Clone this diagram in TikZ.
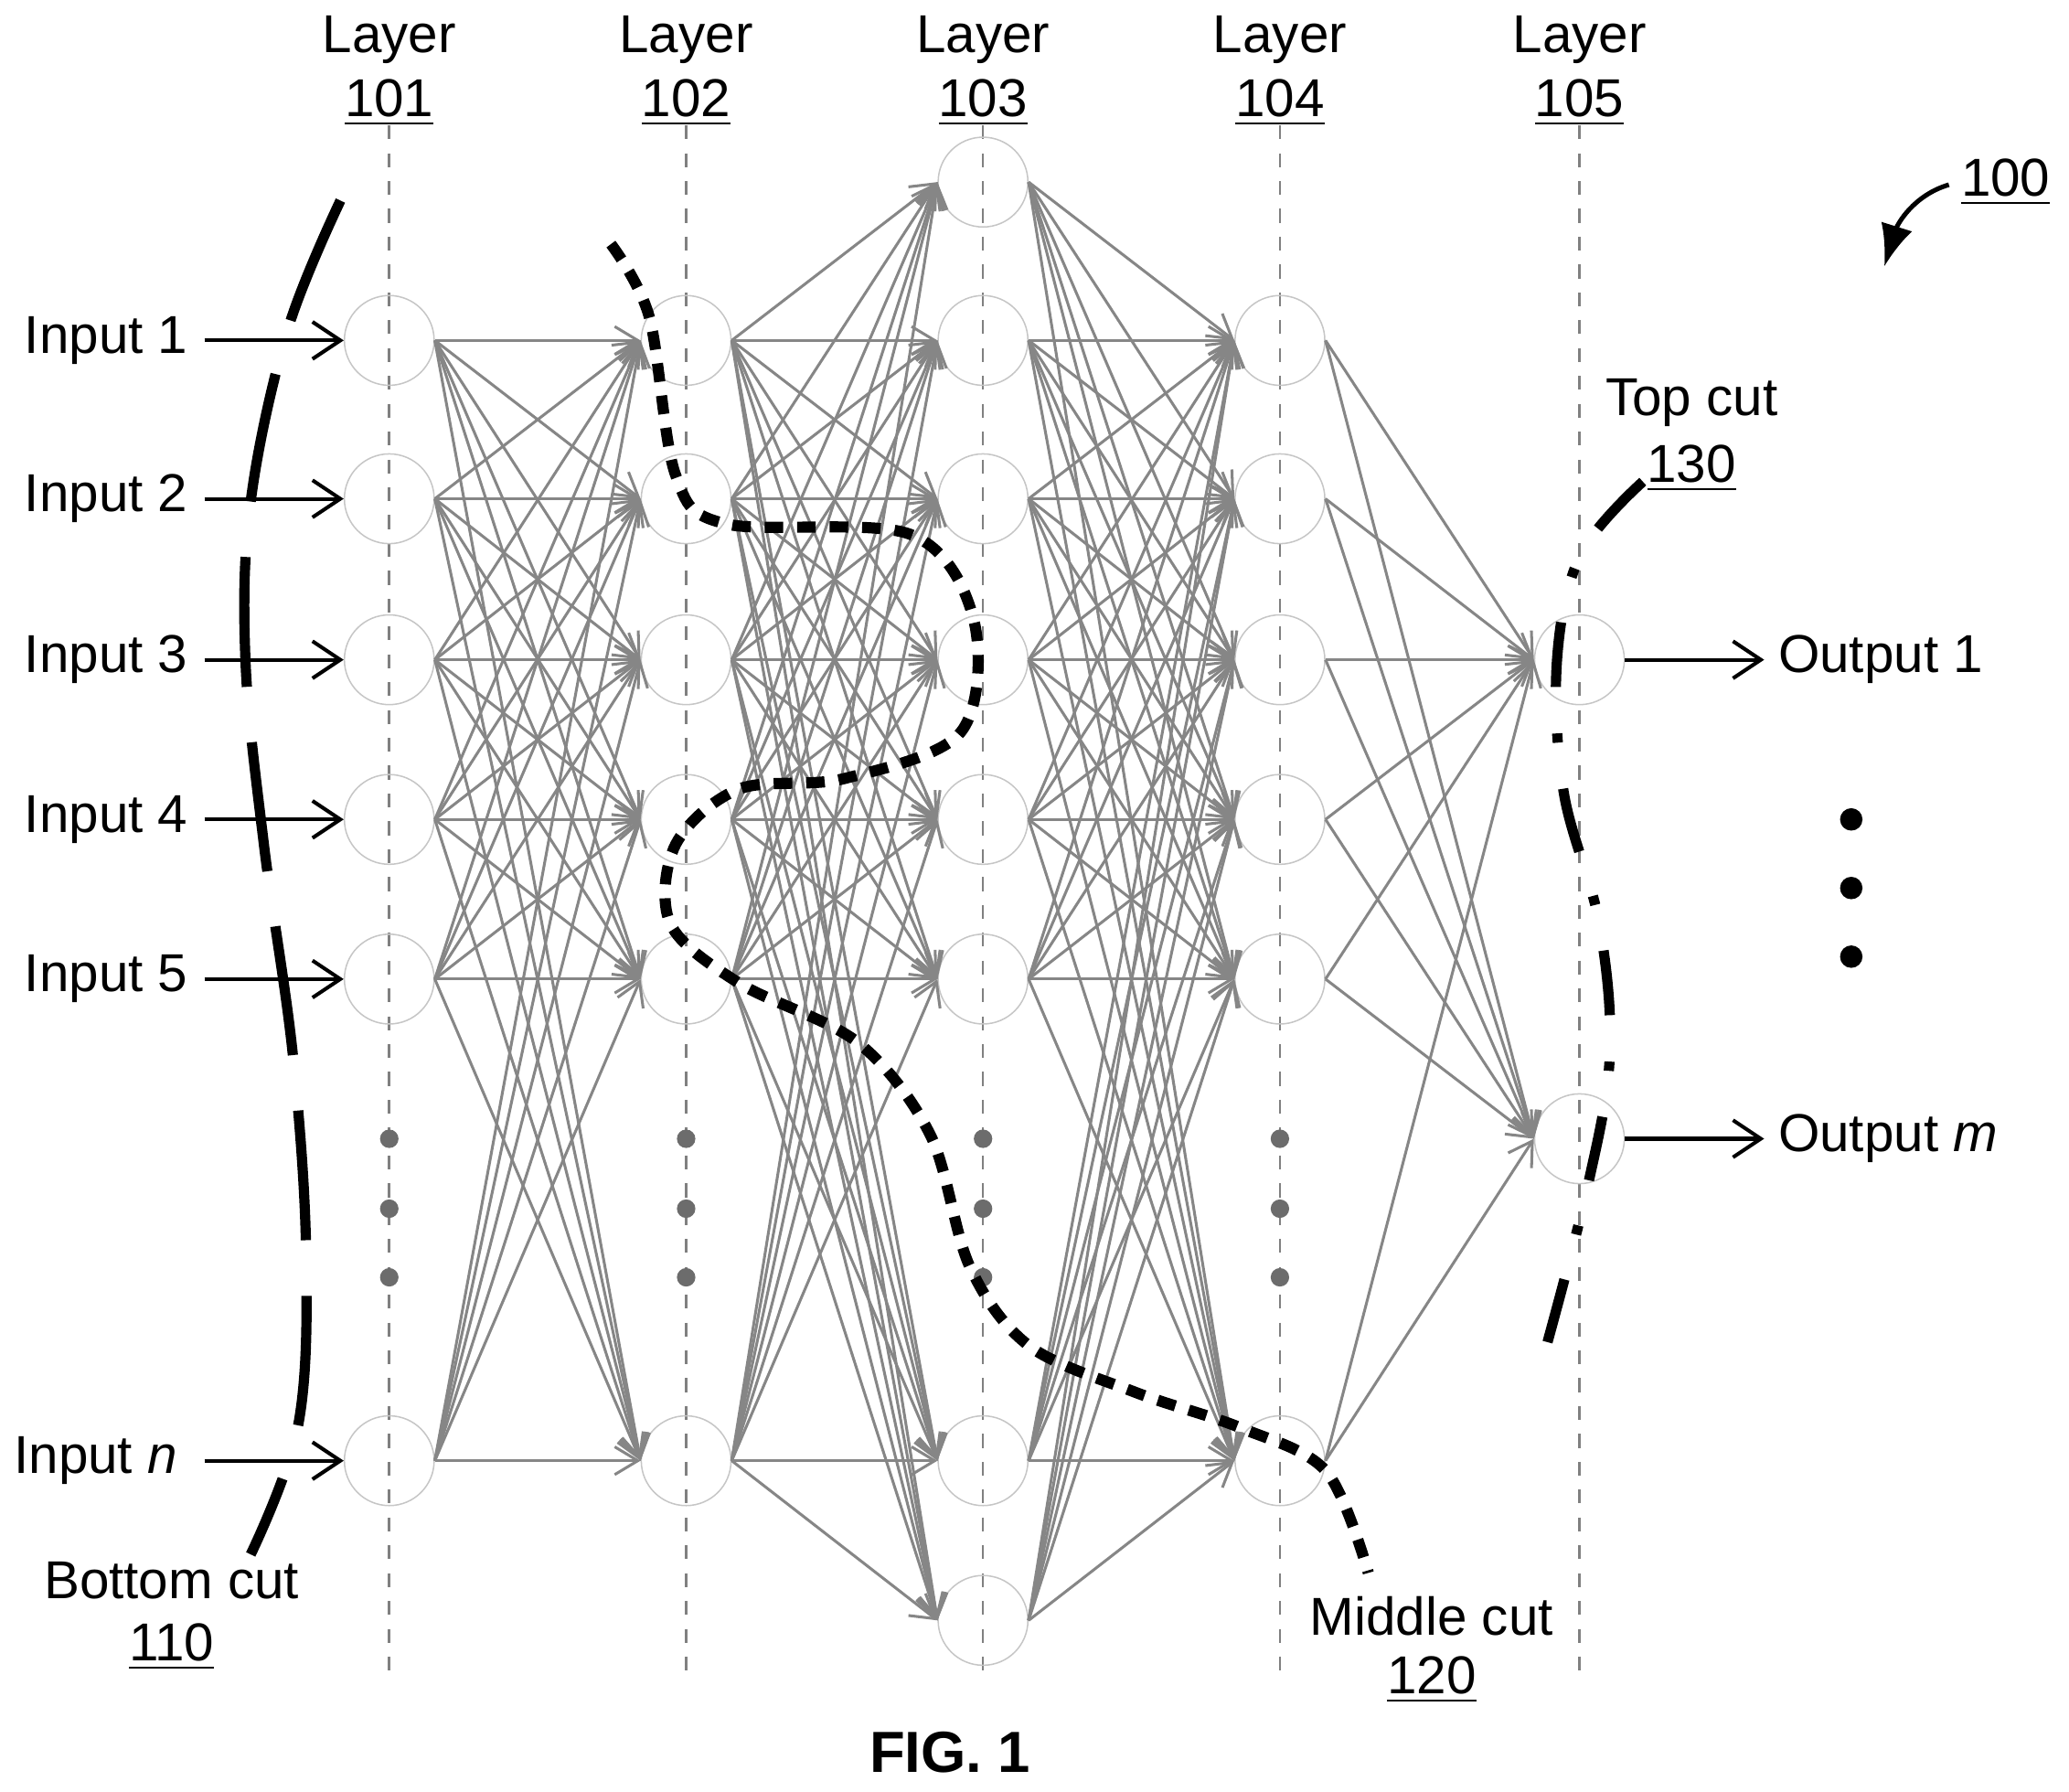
\documentclass[tikz,border=0pt]{standalone}
\usepackage{fontspec}
\setmainfont{Liberation Sans}
\usetikzlibrary{arrows.meta}
\begin{document}
\begin{tikzpicture}[x=0.01cm,y=-0.01cm,
  neuron/.style={circle,draw=gray!45,line width=0.3pt,minimum size=0.68cm,inner sep=0pt},
  edge/.style={draw=gray!95,line width=0.6pt,-{Straight Barb[length=5pt,width=6pt]}},
  io/.style={line width=0.8pt,-{Straight Barb[length=6pt,width=8pt]}},
  txt/.style={font=\fontsize{11.5}{13}\selectfont,inner sep=0pt},
  guide/.style={gray,dashed,line width=0.5pt},
  gdot/.style={circle,fill=gray!85!black,minimum size=0.14cm,inner sep=0pt},
  cut/.style={line width=2.2pt}]
\useasboundingbox (0,0) rectangle (1568,1358);
% guides and layer labels
\foreach \x/\n in {295/101,520/102,745/103,970/104,1197/105}{
  \draw[guide] (\x,95) -- (\x,1275);
  \node[txt] (lab\n) at (\x,30) {Layer};
  \node[txt] (num\n) at (\x,78) {\underline{\n}};
}
% nodes
\foreach \y [count=\i] in {258,378,500,621,742,1107}{
  \node[neuron] (a\i) at (295,\y) {};
  \node[neuron] (b\i) at (520,\y) {};
  \node[neuron] (d\i) at (970,\y) {};
}
\foreach \y [count=\i] in {138,258,378,500,621,742,1107,1228}{
  \node[neuron] (c\i) at (745,\y) {};
}
\node[neuron] (e1) at (1197,500) {};
\node[neuron] (e2) at (1197,863) {};
% edges
\foreach \i in {1,...,6}{\foreach \j in {1,...,6}{\draw[edge] (a\i.east) -- (b\j.west);}}
\foreach \i in {1,...,6}{\foreach \j in {1,...,8}{\draw[edge] (b\i.east) -- (c\j.west);}}
\foreach \i in {1,...,8}{\foreach \j in {1,...,6}{\draw[edge] (c\i.east) -- (d\j.west);}}
\foreach \i in {1,...,6}{\foreach \j in {1,2}{\draw[edge] (d\i.east) -- (e\j.west);}}
% gray dots
\foreach \x in {295,520,745,970}{\foreach \y in {863,916,968}{\node[gdot] at (\x,\y) {};}}
\foreach \y in {621,673,725}{\node[circle,fill=black,minimum size=0.17cm,inner sep=0pt] at (1403,\y) {};}
% inputs
\foreach \t/\i/\y in {Input 1/1/258,Input 2/2/378,Input 3/3/500,Input 4/4/621,Input 5/5/742}{
  \node[txt,anchor=east] (in\i) at (143,\y) {\t};
  \draw[io] (in\i.east)++(12,0) coordinate (s\i) -- (a\i.west);
}
\node[txt,anchor=east] (in6) at (135,1107) {Input \textit{n}};
\draw[io] (in6.east)++(20,0) -- (a6.west);
\node[txt,anchor=west] (out1) at (1347,500) {Output 1};
\node[txt,anchor=west] (out2) at (1347,863) {Output \textit{m}};
\draw[io] (e1.east) -- ([xshift=-0.1cm]out1.west);
\draw[io] (e2.east) -- ([xshift=-0.1cm]out2.west);
% cuts
\draw[cut,dash pattern=on 28pt off 12pt] plot[smooth,tension=0.6] coordinates {(258,152) (218,250) (190,380) (186,500) (200,640) (222,800) (232,950) (226,1080) (190,1178)};
\draw[cut,line width=2.4pt,dash pattern=on 4pt off 3pt] plot[smooth,tension=0.55] coordinates {(463,185) (492,240) (512,360) (550,397) (690,405) (738,470) (728,555) (640,590) (560,598) (512,640) (508,700) (560,745) (650,790) (705,860) (735,960) (780,1020) (860,1055) (940,1082) (1005,1115) (1037,1192)};
\draw[line width=2.2pt,dash pattern=on 14pt off 10pt on 2pt off 10pt] plot[smooth,tension=0.6] coordinates {(1245,365) (1198,420) (1180,500) (1185,600) (1212,700) (1220,800) (1203,900) (1172,1020)};
\node[txt] (tc) at (1282,305) {Top cut};
\node[txt] (tcn) at (1282,355) {\underline{130}};
\node[txt] (mc) at (1085,1225) {Middle cut};
\node[txt] (mcn) at (1085,1273) {\underline{120}};
\node[txt] (bc) at (130,1198) {Bottom cut};
\node[txt] (bcn) at (130,1248) {\underline{110}};
\node[txt] (fig) at (1520,138) {\underline{100}};
\draw[line width=1pt,-{Latex[length=9pt,width=7pt]}] (1477,140) .. controls (1450,148) and (1438,170) .. (1428,202);
\node[txt,font=\fontsize{12.5}{14}\selectfont\bfseries] (cap) at (720,1328) {FIG. 1};
\end{tikzpicture}
\end{document}
